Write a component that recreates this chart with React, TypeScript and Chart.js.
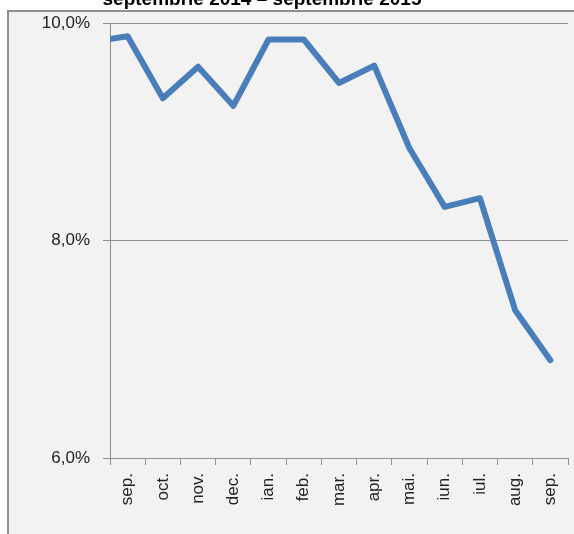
import React, { useEffect, useRef } from "react";
import { Chart, registerables } from "chart.js";

Chart.register(...registerables);

const titleText = "septembrie 2014 – septembrie 2015";
// first entry (aug. 2014) lies just outside the visible range; only its segment shows at the left edge
const months = ["aug.", "sep.", "oct.", "nov.", "dec.", "ian.", "feb.", "mar.", "apr.", "mai.", "iun.", "iul.", "aug.", "sep."];
const rates = [9.83, 9.88, 9.31, 9.6, 9.24, 9.85, 9.85, 9.45, 9.61, 8.85, 8.31, 8.39, 7.36, 6.9];
const yMin = 6;
const yMax = 10;
const yStep = 2;

const FONT = "'Liberation Sans', Arial, sans-serif";

const framePlugin = {
  id: "frame",
  beforeDraw(chart: any) {
    const ctx = chart.ctx;
    ctx.save();
    ctx.fillStyle = "#ffffff";
    ctx.fillRect(0, 0, chart.width, chart.height);
    ctx.fillStyle = "#f2f2f2";
    ctx.fillRect(8, 11, chart.width, chart.height);
    ctx.strokeStyle = "#8f8f8f";
    ctx.lineWidth = 2;
    ctx.beginPath();
    ctx.moveTo(8, chart.height + 2);
    ctx.lineTo(8, 11);
    ctx.lineTo(chart.width + 2, 11);
    ctx.stroke();
    ctx.fillStyle = "#000000";
    ctx.font = `bold 19px ${FONT}`;
    ctx.textAlign = "center";
    ctx.textBaseline = "alphabetic";
    ctx.fillText(titleText, 262, 5);
    ctx.restore();
  },
};

export default function App() {
  const ref = useRef<HTMLCanvasElement>(null);
  useEffect(() => {
    if (!ref.current) return;
    const chart = new Chart(ref.current, {
      type: "line",
      data: {
        labels: months,
        datasets: [
          {
            data: rates,
            borderColor: "#4a7ebb",
            borderWidth: 6,
            pointRadius: 0,
            tension: 0,
            borderJoinStyle: "round",
            borderCapStyle: "round",
            clip: { left: 0, top: false, right: false, bottom: false } as any,
          },
        ],
      },
      options: {
        animation: false,
        responsive: false,
        devicePixelRatio: 1,
        layout: { padding: { left: 0, top: 23, right: 6, bottom: 0 } },
        plugins: {
          legend: { display: false },
          title: { display: false },
          tooltip: { enabled: false },
        },
        scales: {
          x: {
            type: "category",
            min: 1,
            offset: true,
            grid: {
              offset: true,
              drawOnChartArea: false,
              drawTicks: true,
              tickLength: 7,
              color: "#8f8f8f",
            },
            border: { color: "#8f8f8f", width: 1 },
            ticks: {
              autoSkip: false,
              minRotation: 90,
              maxRotation: 90,
              padding: 8,
              color: "#222222",
              font: { family: FONT, size: 17 },
            },
            afterFit(scale: any) {
              scale.height = 76;
              scale.paddingLeft = 0;
              scale.paddingRight = 0;
            },
          },
          y: {
            min: yMin,
            max: yMax,
            grid: {
              color: "#8f8f8f",
              tickLength: 7,
              drawTicks: true,
            },
            border: { color: "#8f8f8f", width: 1 },
            ticks: {
              stepSize: yStep,
              padding: 13,
              color: "#222222",
              font: { family: FONT, size: 17 },
              callback: (v: any) => Number(v).toFixed(1).replace(".", ",") + "%",
            },
            afterFit(scale: any) {
              scale.width = 110;
            },
          },
        },
      },
      plugins: [framePlugin],
    });
    return () => chart.destroy();
  }, []);
  return (
    <div style={{ position: "absolute", left: 0, top: 0, width: 574, height: 534 }}>
      <canvas ref={ref} width={574} height={534} style={{ display: "block" }} />
    </div>
  );
}
